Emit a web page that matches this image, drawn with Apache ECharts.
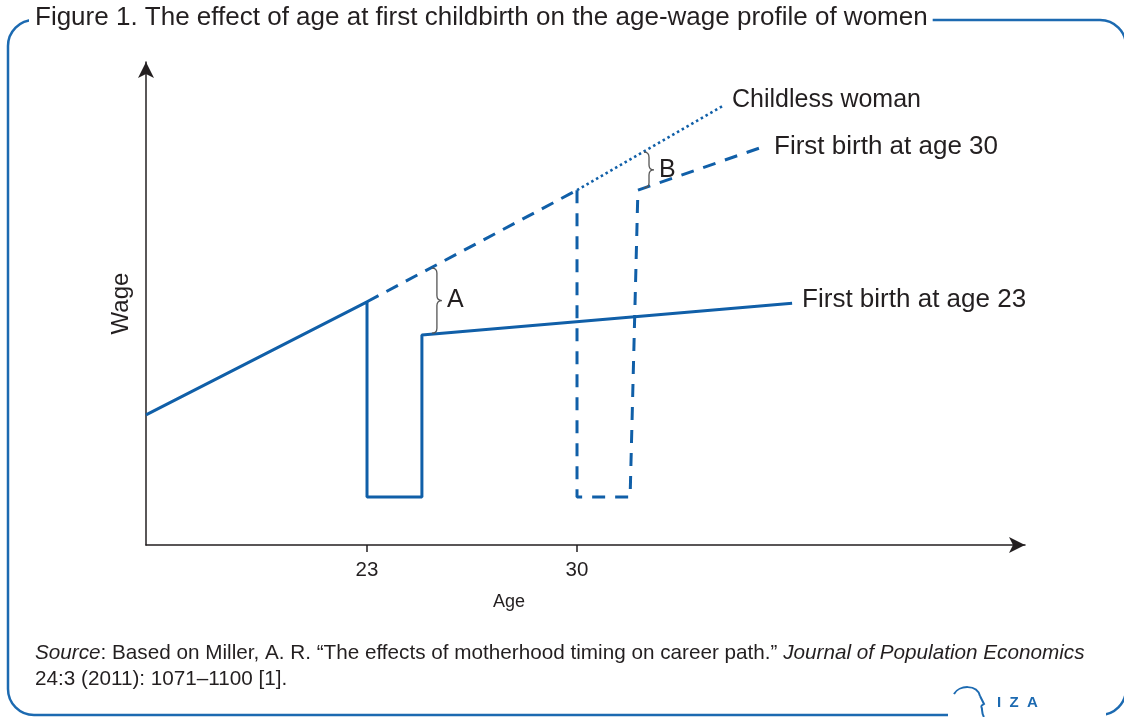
<!DOCTYPE html>
<html>
<head>
<meta charset="utf-8">
<script src="https://cdn.jsdelivr.net/npm/echarts@6/dist/echarts.min.js"></script>
<style>
  html, body { margin: 0; padding: 0; background: #fff; }
  #main { width: 1124px; height: 717px; }
</style>
</head>
<body>
<div id="main"></div>
<script>
// axis range (age in years, wage on an arbitrary 0-100 scale)
const ageMin = 15.633
const ageMax = 44.933
const wageMax = 101.68
const ageTicks = [23, 30]

// first birth at 23: rising, drop at birth, flatter profile after return
const ages23 = [15.633, 23, 23, 24.83, 24.83, 37.17]
const wages23 = [27.4, 51.2, 10.1, 10.1, 44.2, 50.9]

// childless profile between 23 and 30 (dashed, shared with first birth at 30)
const agesShared = [23, 30]
const wagesShared = [51.2, 74.7]

// first birth at 30
const ages30 = [30, 30, 31.77, 32.03, 36.1]
const wages30 = [74.7, 10.1, 10.1, 74.7, 83.6]

// childless woman after 30 (dotted)
const agesChildless = [30, 34.9]
const wagesChildless = [74.7, 92.6]

// braces A and B
const braceAges = [25.33, 32.4]
const braceTop = [58.3, 82.7]
const braceBottom = [44.6, 75.2]
const braceLabels = ['A', 'B']

const blue = '#105fa8'
const frameBlue = '#1c6ab1'
const ink = '#231f20'
const font = 'Liberation Sans, Arial, sans-serif'

const zip = (xs, ys) => xs.map((x, i) => [x, ys[i]])

function renderBrace(params, api) {
  const top = api.coord([api.value(0), api.value(1)])
  const bot = api.coord([api.value(0), api.value(2)])
  const x = top[0]
  const y1 = top[1]
  const y2 = bot[1]
  const ym = (y1 + y2) / 2
  const w = 5
  const d = 'M' + (x - w) + ' ' + y1 +
    ' Q' + x + ' ' + y1 + ' ' + x + ' ' + (y1 + w) +
    ' L' + x + ' ' + (ym - w) +
    ' Q' + x + ' ' + ym + ' ' + (x + w) + ' ' + ym +
    ' Q' + x + ' ' + ym + ' ' + x + ' ' + (ym + w) +
    ' L' + x + ' ' + (y2 - w) +
    ' Q' + x + ' ' + y2 + ' ' + (x - w) + ' ' + y2
  return {
    type: 'group',
    children: [
      {
        type: 'path',
        shape: { pathData: d },
        style: { fill: 'none', stroke: '#555', lineWidth: 1.3 },
      },
      {
        type: 'text',
        style: {
          text: braceLabels[params.dataIndex],
          x: x + 10,
          y: ym,
          verticalAlign: 'middle',
          fontSize: 25,
          fontFamily: font,
          fill: ink,
        },
      },
    ],
  }
}

const chart = echarts.init(document.getElementById('main'))

const lineLabel = (dist, dy) => ({
  show: true,
  formatter: '{a}',
  distance: dist,
  offset: [0, dy],
  fontSize: 26,
  fontFamily: font,
  color: ink,
})

const option = {
  animation: false,
  title: [
    {
      text: 'Figure 1. The effect of age at first childbirth on the age-wage profile of women',
      left: 29,
      top: 3,
      padding: [2, 5, 2, 6],
      backgroundColor: '#fff',
      textStyle: { fontSize: 26, fontWeight: 'normal', color: ink, fontFamily: font },
      z: 10,
    },
    {
      text: '{i|Source}: Based on Miller, A. R. \u201cThe effects of motherhood timing on career path.\u201d {i|Journal of Population Economics}\n24:3 (2011): 1071\u20131100 [1].',
      left: 35,
      top: 640,
      padding: 0,
      textStyle: {
        fontSize: 20.7,
        lineHeight: 26,
        fontWeight: 'normal',
        color: ink,
        fontFamily: font,
        rich: {
          i: { fontStyle: 'italic', fontSize: 20.7, lineHeight: 26, color: ink, fontFamily: font },
        },
      },
    },
  ],
  graphic: [
    {
      type: 'rect',
      shape: { x: 8, y: 20, width: 1118, height: 695, r: 26 },
      style: { fill: 'none', stroke: frameBlue, lineWidth: 2.5 },
      z: 1,
    },
    {
      // gap in the frame under the logo
      type: 'rect',
      shape: { x: 948, y: 708, width: 158, height: 12 },
      style: { fill: '#fff' },
      z: 2,
    },
    {
      type: 'bezierCurve',
      shape: { x1: 954, y1: 694, cpx1: 959, cpy1: 685, cpx2: 977, cpy2: 684, x2: 980, y2: 696 },
      style: { fill: 'none', stroke: frameBlue, lineWidth: 2 },
      z: 3,
    },
    {
      type: 'polyline',
      shape: { points: [[980, 696], [984, 704], [981, 706]] },
      style: { fill: 'none', stroke: frameBlue, lineWidth: 2 },
      z: 3,
    },
    {
      type: 'bezierCurve',
      shape: { x1: 981, y1: 706, cpx1: 983, cpy1: 709, cpx2: 981, cpy2: 713, x2: 984, y2: 717 },
      style: { fill: 'none', stroke: frameBlue, lineWidth: 2 },
      z: 3,
    },
    {
      type: 'text',
      style: {
        text: 'I  Z  A',
        x: 997,
        y: 703,
        verticalAlign: 'middle',
        fontSize: 15,
        fontWeight: 'bold',
        fontFamily: font,
        fill: frameBlue,
      },
      z: 3,
    },
    {
      type: 'text',
      style: {
        text: 'Age',
        x: 509,
        y: 602,
        align: 'center',
        verticalAlign: 'middle',
        fontSize: 18,
        fontFamily: font,
        fill: ink,
      },
    },
  ],
  grid: { left: 146, right: 99, top: 62, bottom: 172 },
  xAxis: {
    type: 'value',
    min: ageMin,
    max: ageMax,
    axisLine: {
      show: true,
      symbol: ['none', 'arrow'],
      symbolSize: [12, 16],
      lineStyle: { color: ink, width: 1.5 },
    },
    axisTick: {
      show: true,
      customValues: ageTicks,
      length: 7,
      lineStyle: { color: ink, width: 1.5 },
    },
    axisLabel: {
      customValues: ageTicks,
      margin: 15,
      fontSize: 20.5,
      color: ink,
      fontFamily: font,
    },
    splitLine: { show: false },
  },
  yAxis: {
    type: 'value',
    min: 0,
    max: wageMax,
    name: 'Wage',
    nameLocation: 'middle',
    nameGap: 13,
    nameRotate: 90,
    nameTextStyle: { fontSize: 24, color: ink, fontFamily: font },
    axisLine: {
      show: true,
      symbol: ['none', 'arrow'],
      symbolSize: [12, 16],
      lineStyle: { color: ink, width: 1.5 },
    },
    axisTick: { show: false },
    axisLabel: { show: false },
    splitLine: { show: false },
  },
  series: [
    {
      name: 'First birth at age 23',
      type: 'line',
      data: zip(ages23, wages23),
      symbol: 'none',
      lineStyle: { color: blue, width: 3 },
      endLabel: lineLabel(10, -3),
      z: 3,
    },
    {
      name: 'shared',
      type: 'line',
      data: zip(agesShared, wagesShared),
      symbol: 'none',
      lineStyle: { color: blue, width: 3, type: [13, 9] },
    },
    {
      name: 'First birth at age 30',
      type: 'line',
      data: zip(ages30, wages30),
      symbol: 'none',
      lineStyle: { color: blue, width: 3, type: [13, 10] },
      endLabel: lineLabel(14, -1),
    },
    {
      name: 'Childless woman',
      type: 'line',
      data: zip(agesChildless, wagesChildless),
      symbol: 'none',
      lineStyle: { color: blue, width: 2.6, type: [2.5, 3] },
      endLabel: Object.assign(lineLabel(8, -5), { fontSize: 25 }),
    },
    {
      type: 'custom',
      renderItem: renderBrace,
      data: braceAges.map((a, i) => [a, braceTop[i], braceBottom[i]]),
      silent: true,
      z: 4,
    },
  ],
}

chart.setOption(option)
</script>
</body>
</html>
